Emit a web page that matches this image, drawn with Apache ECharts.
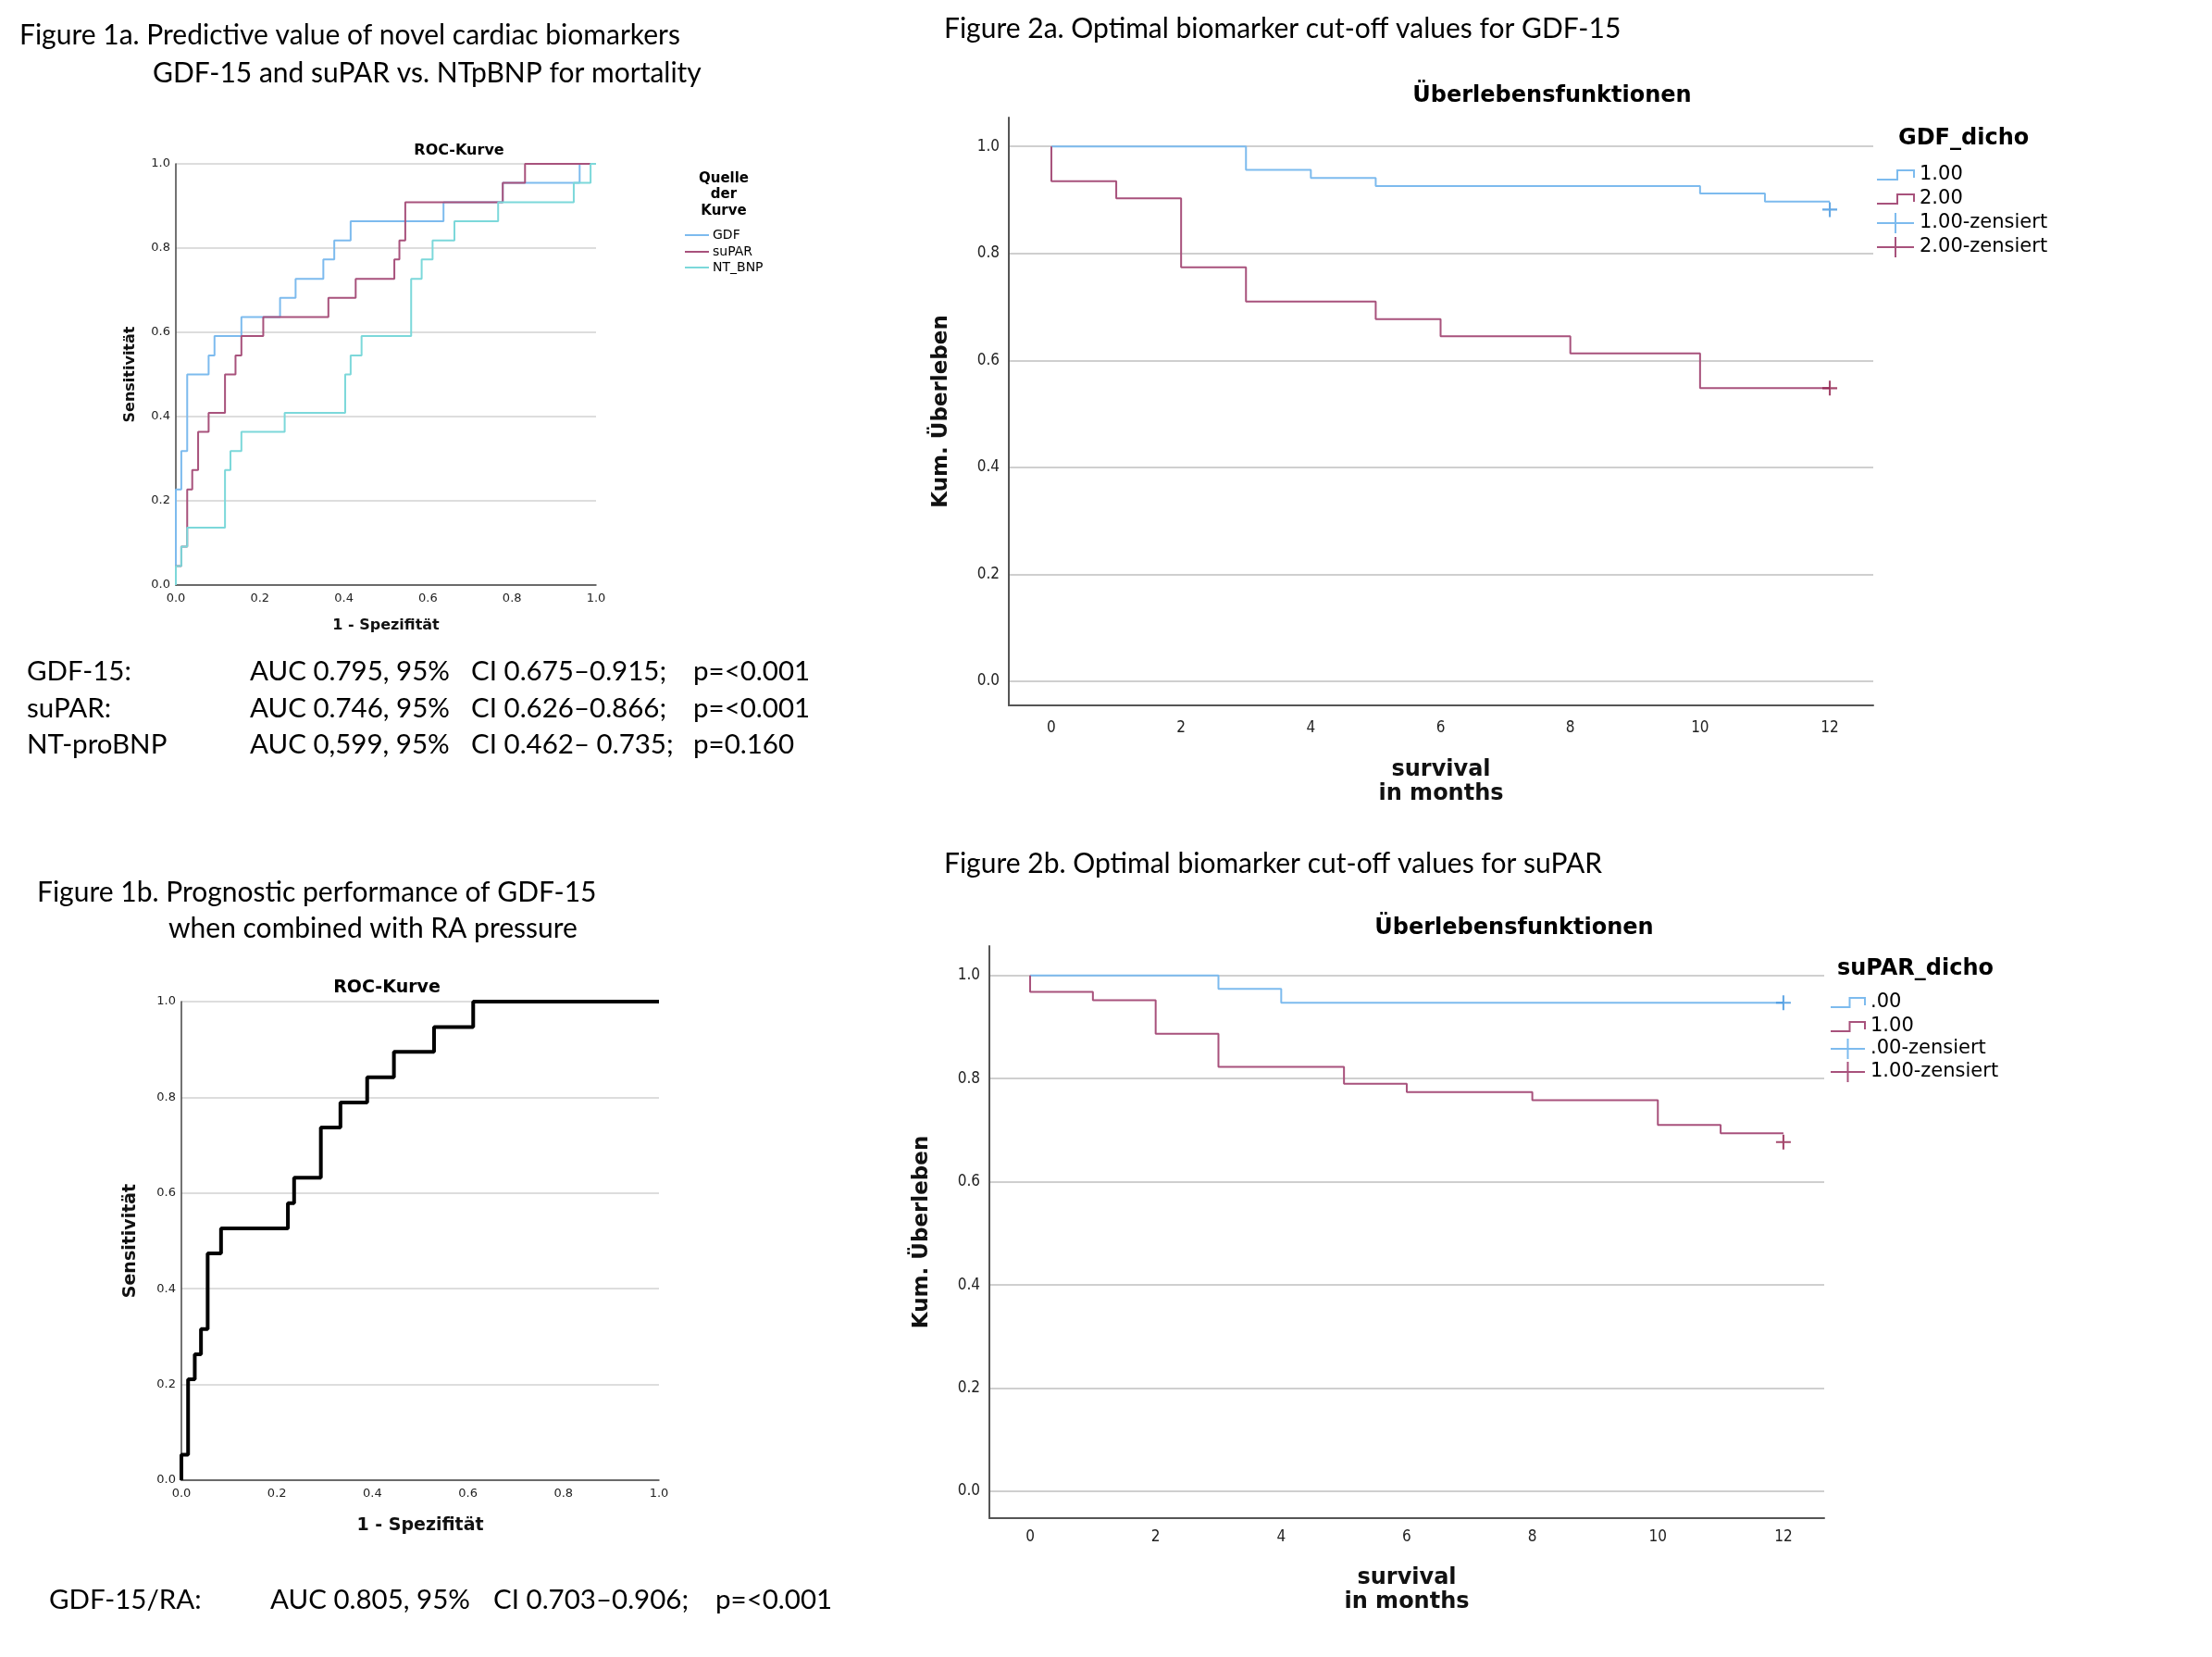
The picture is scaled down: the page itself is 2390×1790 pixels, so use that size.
<!DOCTYPE html>
<html><head><meta charset="utf-8">
<script src="https://cdn.jsdelivr.net/npm/echarts@6/dist/echarts.min.js"></script>
<style>html,body{margin:0;padding:0;background:#fff}#c{width:2390px;height:1790px}</style>
</head><body><div id="c"></div>
<script>
// ---------- DATA ----------
// Figure 1a ROC curves: [1 - specificity, sensitivity]
const rocGDF = [[0,0],[0,0.227],[0.013,0.227],[0.013,0.318],[0.027,0.318],[0.027,0.5],[0.078,0.5],[0.078,0.545],[0.092,0.545],[0.092,0.591],[0.156,0.591],[0.156,0.636],[0.248,0.636],[0.248,0.682],[0.285,0.682],[0.285,0.727],[0.351,0.727],[0.351,0.773],[0.377,0.773],[0.377,0.818],[0.416,0.818],[0.416,0.864],[0.637,0.864],[0.637,0.909],[0.778,0.909],[0.778,0.955],[0.961,0.955],[0.961,1],[1,1]];
const rocSuPAR = [[0,0],[0,0.045],[0.013,0.045],[0.013,0.091],[0.027,0.091],[0.027,0.227],[0.039,0.227],[0.039,0.273],[0.053,0.273],[0.053,0.364],[0.078,0.364],[0.078,0.409],[0.117,0.409],[0.117,0.5],[0.142,0.5],[0.142,0.545],[0.156,0.545],[0.156,0.591],[0.208,0.591],[0.208,0.636],[0.363,0.636],[0.363,0.682],[0.428,0.682],[0.428,0.727],[0.52,0.727],[0.52,0.773],[0.532,0.773],[0.532,0.818],[0.546,0.818],[0.546,0.909],[0.778,0.909],[0.778,0.955],[0.831,0.955],[0.831,1],[1,1]];
const rocNTBNP = [[0,0],[0,0.045],[0.013,0.045],[0.013,0.091],[0.027,0.091],[0.027,0.136],[0.117,0.136],[0.117,0.273],[0.13,0.273],[0.13,0.318],[0.156,0.318],[0.156,0.364],[0.259,0.364],[0.259,0.409],[0.403,0.409],[0.403,0.5],[0.416,0.5],[0.416,0.545],[0.442,0.545],[0.442,0.591],[0.56,0.591],[0.56,0.727],[0.585,0.727],[0.585,0.773],[0.611,0.773],[0.611,0.818],[0.663,0.818],[0.663,0.864],[0.767,0.864],[0.767,0.909],[0.947,0.909],[0.947,0.955],[0.987,0.955],[0.987,1],[1,1]];
// Figure 1b ROC curve GDF-15/RA
const rocGDFRA = [[0,0],[0,0.053],[0.014,0.053],[0.014,0.211],[0.028,0.211],[0.028,0.263],[0.041,0.263],[0.041,0.316],[0.055,0.316],[0.055,0.474],[0.083,0.474],[0.083,0.526],[0.223,0.526],[0.223,0.579],[0.236,0.579],[0.236,0.632],[0.292,0.632],[0.292,0.737],[0.333,0.737],[0.333,0.789],[0.389,0.789],[0.389,0.842],[0.445,0.842],[0.445,0.895],[0.529,0.895],[0.529,0.947],[0.611,0.947],[0.611,1],[1,1]];
// Figure 2a Kaplan-Meier GDF_dicho: [month, cumulative survival]
const kmGDF1 = [[0,1],[3,0.956],[4,0.941],[5,0.926],[10,0.912],[11,0.897],[12,0.897]];
const kmGDF2 = [[0,1],[0,0.935],[1,0.903],[2,0.774],[3,0.71],[5,0.677],[6,0.645],[8,0.613],[10,0.548],[12,0.548]];
const censGDF1 = [[12,0.882]];
const censGDF2 = [[12,0.548]];
// Figure 2b Kaplan-Meier suPAR_dicho
const kmSuPAR0 = [[0,1],[3,0.974],[4,0.947],[12,0.947]];
const kmSuPAR1 = [[0,1],[0,0.968],[1,0.952],[2,0.887],[3,0.823],[5,0.79],[6,0.774],[8,0.758],[10,0.71],[11,0.694],[12,0.694]];
const censSuPAR0 = [[12,0.947]];
const censSuPAR1 = [[12,0.677]];
// tick labels
const rocTicks = [0,0.2,0.4,0.6,0.8,1.0];
const kmMonthTicks = [0,2,4,6,8,10,12];
const kmSurvTicks = [0,0.2,0.4,0.6,0.8,1.0];
// text
const statsFig1a = [
  ['GDF-15:','AUC 0.795, 95%','CI 0.675\u20130.915;','p=<0.001'],
  ['suPAR:','AUC 0.746, 95%','CI 0.626\u20130.866;','p=<0.001'],
  ['NT-proBNP','AUC 0,599, 95%','CI 0.462\u2013 0.735;','p=0.160']
];
const statsFig1b = [['GDF-15/RA:','AUC 0.805, 95%','CI 0.703\u20130.906;','p=<0.001']];

// ---------- STYLE ----------
const C_BLUE = '#7dbbee', C_RED = '#a8527c', C_TEAL = '#7cd8da';
const C_BLUE_C = '#3f94de', C_RED_C = '#8e1c48';
const F_CAP = 'Lato, "Open Sans", sans-serif';
const F_SPSS = '"DejaVu Sans", Verdana, sans-serif';
const F_COND = '"DejaVu Sans Condensed", "Liberation Sans Narrow", "DejaVu Sans", sans-serif';
const CAP_SIZE = 30, STAT_SIZE = 29.5;

const chart = echarts.init(document.getElementById('c'), null, {renderer:'canvas'});

function rocX(gi, gap, size){
  return {gridIndex:gi, type:'value', min:0, max:1, interval:0.2,
    name:'1 - Spezifit\u00e4t', nameLocation:'middle', nameGap:gap,
    nameTextStyle:{fontFamily:F_SPSS, fontWeight:'bold', fontSize:size, color:'#111'},
    axisLine:{show:true, lineStyle:{color:'#444', width:1.5}}, axisTick:{show:false},
    axisLabel:{fontFamily:F_SPSS, fontSize:13, color:'#222', margin:8, formatter:v=>v.toFixed(1)},
    splitLine:{show:false}};
}
function rocY(gi, gap, size){
  return {gridIndex:gi, type:'value', min:0, max:1, interval:0.2,
    name:'Sensitivit\u00e4t', nameLocation:'middle', nameGap:gap, nameRotate:90,
    nameTextStyle:{fontFamily:F_SPSS, fontWeight:'bold', fontSize:size, color:'#111'},
    axisLine:{show:true, lineStyle:{color:'#444', width:1.5}}, axisTick:{show:false},
    axisLabel:{fontFamily:F_SPSS, fontSize:13, color:'#222', margin:6, formatter:v=>v.toFixed(1)},
    splitLine:{show:true, lineStyle:{color:'#d2d2d2', width:1.5}}};
}
function kmX(gi, min, max, gap, margin){
  return {gridIndex:gi, type:'value', min:min, max:max,
    name:'survival\nin months', nameLocation:'middle', nameGap:gap,
    nameTextStyle:{fontFamily:F_SPSS, fontWeight:'bold', fontSize:24, lineHeight:26, color:'#111'},
    axisLine:{show:true, onZero:false, lineStyle:{color:'#555', width:2}},
    axisTick:{show:false, customValues:kmMonthTicks},
    axisLabel:{customValues:kmMonthTicks, fontFamily:F_COND, fontSize:17, color:'#222', margin:margin},
    splitLine:{show:false}};
}
function kmY(gi, min, max){
  return {gridIndex:gi, type:'value', min:min, max:max,
    name:'Kum. \u00dcberleben', nameLocation:'middle', nameGap:61, nameRotate:90,
    nameTextStyle:{fontFamily:F_SPSS, fontWeight:'bold', fontSize:23, color:'#111'},
    axisLine:{show:true, onZero:false, lineStyle:{color:'#555', width:2}},
    axisTick:{show:false, customValues:kmSurvTicks},
    axisLabel:{customValues:kmSurvTicks, fontFamily:F_COND, fontSize:17, color:'#222', margin:10, formatter:v=>v.toFixed(1)},
    splitLine:{show:true, lineStyle:{color:'#cfcfcf', width:2}}};
}
function line(name, xi, data, color, width, step){
  return {name, type:'line', xAxisIndex:xi, yAxisIndex:xi, data, step:step||false, symbol:'none',
    lineStyle:{color, width}, itemStyle:{color}, silent:true, animation:false, z:3};
}
const PLUS = 'path://M-1.2,-9 L1.2,-9 L1.2,-1.2 L9,-1.2 L9,1.2 L1.2,1.2 L1.2,9 L-1.2,9 L-1.2,1.2 L-9,1.2 L-9,-1.2 L-1.2,-1.2 Z';
function cens(name, xi, data, color){
  return {name, type:'scatter', xAxisIndex:xi, yAxisIndex:xi, data, symbol:PLUS, symbolSize:16,
    itemStyle:{color}, silent:true, animation:false, z:4};
}

// ---------- GRAPHIC TEXT / LEGENDS ----------
const G = [];
function T(x, y, text, font, size, weight, align){
  G.push({type:'text', x, y, silent:true, style:{text, fontFamily:font, fontSize:size, fontWeight:weight||'normal',
    fill:'#000', align:align||'left', verticalAlign:'middle'}});
}
function PL(points, color, w){
  G.push({type:'polyline', silent:true, shape:{points}, style:{stroke:color, lineWidth:w, fill:null}});
}
// Captions
T(21, 38, 'Figure 1a. Predictive value of novel cardiac biomarkers', F_CAP, CAP_SIZE);
T(165, 79, 'GDF-15 and suPAR vs. NTpBNP for mortality', F_CAP, CAP_SIZE);
T(40, 964, 'Figure 1b. Prognostic performance of GDF-15', F_CAP, CAP_SIZE);
T(182, 1003, 'when combined with RA pressure', F_CAP, CAP_SIZE);
T(1020, 31, 'Figure 2a. Optimal biomarker cut-off values for GDF-15', F_CAP, CAP_SIZE);
T(1020, 933, 'Figure 2b. Optimal biomarker cut-off values for suPAR', F_CAP, CAP_SIZE);
// Stats
const colX1a = [29, 270, 509, 749], rowY1a = [725, 765, 804];
statsFig1a.forEach((row, r) => row.forEach((t, c) => T(colX1a[c], rowY1a[r], t, F_CAP, STAT_SIZE)));
const colX1b = [53, 292, 533, 773];
statsFig1b.forEach(row => row.forEach((t, c) => T(colX1b[c], 1728, t, F_CAP, STAT_SIZE)));
// Plot titles
T(496, 163, 'ROC-Kurve', F_SPSS, 16, 'bold', 'center');
T(418, 1067, 'ROC-Kurve', F_SPSS, 19, 'bold', 'center');
T(1677, 104, '\u00dcberlebensfunktionen', F_SPSS, 24, 'bold', 'center');
T(1636, 1003, '\u00dcberlebensfunktionen', F_SPSS, 24, 'bold', 'center');
// Legend 1a
T(782, 193, 'Quelle', F_SPSS, 15, 'bold', 'center');
T(782, 210, 'der', F_SPSS, 15, 'bold', 'center');
T(782, 228, 'Kurve', F_SPSS, 15, 'bold', 'center');
[['GDF', C_BLUE, 254], ['suPAR', C_RED, 272], ['NT_BNP', C_TEAL, 289]].forEach(([n, c, y]) => {
  PL([[740, y], [766, y]], c, 2);
  T(770, y, n, F_SPSS, 14);
});
// KM legends
function kmLegend(x0, x1, tx, title, ttx, ty, items){
  T(ttx, ty, title, F_SPSS, 24, 'bold');
  items.forEach(([label, color, y, kind]) => {
    const m = (x0 + x1) / 2;
    if (kind === 'step') PL([[x0, y + 5], [m + 2, y + 5], [m + 2, y - 5], [x1, y - 5], [x1, y + 3]], color, 2);
    else { PL([[x0, y], [x1, y]], color, 2); PL([[m, y - 11], [m, y + 11]], color, 2); }
    T(tx, y, label, F_SPSS, 21);
  });
}
kmLegend(2028, 2068, 2074, 'GDF_dicho', 2051, 150, [
  ['1.00', C_BLUE, 189, 'step'], ['2.00', C_RED, 215, 'step'],
  ['1.00-zensiert', C_BLUE, 241, 'plus'], ['2.00-zensiert', C_RED, 267, 'plus']]);
kmLegend(1978, 2015, 2021, 'suPAR_dicho', 1985, 1047, [
  ['.00', C_BLUE, 1083, 'step'], ['1.00', C_RED, 1109, 'step'],
  ['.00-zensiert', C_BLUE, 1133, 'plus'], ['1.00-zensiert', C_RED, 1158, 'plus']]);

// ---------- OPTION ----------
chart.setOption({
  backgroundColor:'#fff',
  animation:false,
  grid:[
    {left:190, top:177, width:454, height:455},
    {left:196, top:1082, width:516, height:517},
    {left:1090, top:127, width:934, height:635},
    {left:1069, top:1022, width:902, height:618}
  ],
  xAxis:[rocX(0, 36, 16), rocX(1, 40, 19), kmX(2, -0.656, 12.67, 57, 16), kmX(3, -0.649, 12.65, 52, 12)],
  yAxis:[rocY(0, 41, 16), rocY(1, 45, 19), kmY(2, -0.045, 1.054), kmY(3, -0.052, 1.057)],
  series:[
    line('GDF', 0, rocGDF, C_BLUE, 2),
    line('suPAR', 0, rocSuPAR, C_RED, 2),
    line('NT_BNP', 0, rocNTBNP, C_TEAL, 2),
    line('GDF-15/RA', 1, rocGDFRA, '#000', 4),
    line('GDF 1.00', 2, kmGDF1, C_BLUE, 2, 'end'),
    line('GDF 2.00', 2, kmGDF2, C_RED, 2, 'end'),
    cens('GDF 1.00-zensiert', 2, censGDF1, C_BLUE_C),
    cens('GDF 2.00-zensiert', 2, censGDF2, C_RED_C),
    line('suPAR .00', 3, kmSuPAR0, C_BLUE, 2, 'end'),
    line('suPAR 1.00', 3, kmSuPAR1, C_RED, 2, 'end'),
    cens('suPAR .00-zensiert', 3, censSuPAR0, C_BLUE_C),
    cens('suPAR 1.00-zensiert', 3, censSuPAR1, C_RED_C)
  ],
  graphic:G
});
</script></body></html>
